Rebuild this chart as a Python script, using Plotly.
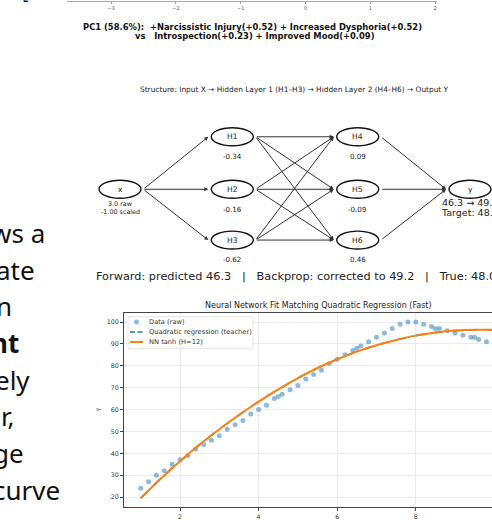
import plotly.graph_objects as go

W, H = 492, 520

# ---------------- data ----------------
x_data = [1.0, 1.2, 1.4, 1.6, 1.8, 2.0, 2.2, 2.4, 2.6, 2.8, 3.0, 3.2, 3.4, 3.6, 3.8,
          4.0, 4.2, 4.4, 4.5, 4.6, 4.8, 5.0, 5.2, 5.4, 5.6, 5.8, 6.0, 6.2, 6.4, 6.5,
          6.6, 6.8, 7.0, 7.2, 7.4, 7.6, 7.8, 8.0, 8.2, 8.4, 8.5, 8.6, 8.8, 9.0, 9.2,
          9.4, 9.5, 9.6, 9.8]
y_data = [24, 27, 30, 32, 35, 37, 39, 42, 44, 46, 48, 51, 53, 55, 58,
          60, 62, 65, 66, 67, 69, 71, 74, 76, 78, 81, 83, 85, 87, 88,
          89, 91, 93, 95, 97, 99, 100, 100, 99, 98, 97, 97, 96, 95, 94,
          93, 93, 92, 91]

curve_x = [1.0, 1.5, 2.0, 2.5, 3.0, 3.5, 4.0, 4.5, 5.0, 5.5, 6.0, 6.5, 7.0,
           7.5, 8.0, 8.5, 9.0, 9.5, 10.0]
teacher_y = [19.5, 28.3, 36.4, 44.0, 51.0, 57.5, 63.6, 69.2, 74.4, 79.0, 83.0,
             86.5, 89.4, 91.8, 93.8, 95.2, 96.1, 96.5, 96.4]
nn_y = [19.5, 28.3, 36.4, 44.0, 51.0, 57.5, 63.6, 69.2, 74.4, 79.0, 83.0,
        86.5, 89.4, 91.8, 93.8, 95.2, 96.1, 96.5, 96.4]

x_ticks = [2, 4, 6, 8]
y_ticks = [20, 30, 40, 50, 60, 70, 80, 90, 100]
pc_ticks = [-3, -2, -1, 0, 1, 2]

hidden_names = ["H1", "H2", "H3", "H4", "H5", "H6"]
hidden_values = [-0.34, -0.16, -0.62, 0.09, -0.09, 0.46]
x_raw = 3.0
x_scaled = -1.00
y_pred = 46.3
y_corrected = 49.2
y_true = 48.0

slide_fragments = ["ws a", "ate", "n", "<b>nt</b>", "ely", "r,", "ge", "curve"]

pc1_line1 = "PC1 (58.6%):\u00a0\u00a0+Narcissistic Injury(+0.52) + Increased Dysphoria(+0.52)"
pc1_line2 = "vs\u00a0\u00a0\u00a0Introspection(+0.23) + Improved Mood(+0.09)"
structure_text = "Structure: Input X \u2192 Hidden Layer 1 (H1\u2013H3) \u2192 Hidden Layer 2 (H4\u2013H6) \u2192 Output Y"
chart_title = "Neural Network Fit Matching Quadratic Regression (Fast)"
legend_labels = ["Data (raw)", "Quadratic regression (teacher)", "NN tanh (H=12)"]

# ---------------- helpers (layout only) ----------------
def px(x):
    return x / W


def py(y):
    return 1 - y / H


FONT = "DejaVu Sans"
BLUE = "#1f77b4"
ORANGE = "#ff7f0e"

fig = go.Figure()

# ---------------- bottom chart ----------------
fig.add_trace(go.Scatter(x=x_data, y=y_data, mode="markers",
                         marker=dict(size=5, color=BLUE, opacity=0.5, line=dict(width=0)),
                         name=legend_labels[0], showlegend=False))
fig.add_trace(go.Scatter(x=curve_x, y=teacher_y, mode="lines", line_shape="spline",
                         line=dict(color=BLUE, width=1.6, dash="dash"),
                         name=legend_labels[1], showlegend=False))
fig.add_trace(go.Scatter(x=curve_x, y=nn_y, mode="lines", line_shape="spline",
                         line=dict(color=ORANGE, width=2),
                         name=legend_labels[2], showlegend=False))

# previous-figure remnant axis at very top
fig.add_trace(go.Scatter(x=[None], y=[None], xaxis="x2", yaxis="y2", showlegend=False))

x0_px, xunit = 101.4, 39.3
y100_px, yunit = 323.3, 2.196
ax_left, ax_right, ax_top, ax_bot = 124, 492, 314, 509

fig.update_layout(
    width=W, height=H,
    margin=dict(l=0, r=0, t=0, b=0),
    paper_bgcolor="white", plot_bgcolor="white",
    showlegend=False,
    font=dict(family=FONT, color="#333"),
    xaxis=dict(domain=[px(ax_left), 1],
               range=[(ax_left - x0_px) / xunit, (ax_right - x0_px) / xunit],
               tickvals=x_ticks, ticks="outside", ticklen=3, tickcolor="#444",
               tickfont=dict(size=6.3, color="#333"),
               showgrid=True, gridcolor="#ebebeb", gridwidth=0.8, zeroline=False,
               showline=True, linecolor="#444", linewidth=1, mirror=True),
    yaxis=dict(domain=[py(ax_bot), py(ax_top)],
               range=[100 - (ax_bot - y100_px) / yunit, 100 + (y100_px - ax_top) / yunit],
               tickvals=y_ticks, ticks="outside", ticklen=3, tickcolor="#444",
               tickfont=dict(size=6.3, color="#333"),
               showgrid=True, gridcolor="#ebebeb", gridwidth=0.8, zeroline=False,
               showline=True, linecolor="#444", linewidth=1, mirror=False),
    xaxis2=dict(domain=[px(67), px(437)],
                range=[(67 - 305.5) / 64.8, (437 - 305.5) / 64.8],
                anchor="y2", tickvals=pc_ticks, ticks="outside", ticklen=2,
                tickcolor="#999", tickfont=dict(size=5, color="#555"),
                showgrid=False, zeroline=False, showline=True, linecolor="#aaa",
                linewidth=1),
    yaxis2=dict(domain=[py(1), 1], visible=False, range=[0, 1]),
)

annotations = []
shapes = []

# bottom chart title and y label
annotations.append(dict(x=px(318), y=py(307), xref="paper", yref="paper", text=chart_title,
                        showarrow=False, xanchor="center", yanchor="middle",
                        font=dict(size=8, color="#222", family=FONT)))
annotations.append(dict(x=px(98), y=py(412), xref="paper", yref="paper", text="Y",
                        showarrow=False, textangle=-90, xanchor="center", yanchor="middle",
                        font=dict(size=6, color="#333", family=FONT)))

# manual legend
shapes.append(dict(type="rect", xref="paper", yref="paper", layer="above",
                   x0=px(128), x1=px(253), y0=py(350), y1=py(318),
                   line=dict(color="#dddddd", width=0.8), fillcolor="rgba(255,255,255,0.85)"))
leg_rows = [323.3, 333.3, 343.3]
shapes.append(dict(type="circle", xref="paper", yref="paper", layer="above",
                   x0=px(134), x1=px(139), y0=py(leg_rows[0] + 2.5), y1=py(leg_rows[0] - 2.5),
                   line=dict(width=0), fillcolor="rgba(31,119,180,0.5)"))
shapes.append(dict(type="line", xref="paper", yref="paper", layer="above",
                   x0=px(130), x1=px(143), y0=py(leg_rows[1]), y1=py(leg_rows[1]),
                   line=dict(color=BLUE, width=1.6, dash="5px,2.5px")))
shapes.append(dict(type="line", xref="paper", yref="paper", layer="above",
                   x0=px(130), x1=px(143), y0=py(leg_rows[2]), y1=py(leg_rows[2]),
                   line=dict(color=ORANGE, width=2)))
for lab, ry in zip(legend_labels, leg_rows):
    annotations.append(dict(x=px(147), y=py(ry), xref="paper", yref="paper", text=lab,
                            showarrow=False, xanchor="left", yanchor="middle",
                            font=dict(size=6.7, color="#333", family=FONT)))

# ---------------- network diagram ----------------
LAYER_X = [120, 232.3, 357.7, 470]
ROW_Y = [137.3, 190, 241]
HW, HH = 21, 9

nodes = {"x": (LAYER_X[0], ROW_Y[1]), "y": (LAYER_X[3], ROW_Y[1])}
for i, nm in enumerate(hidden_names):
    nodes[nm] = (LAYER_X[1 + i // 3], ROW_Y[i % 3])

edges = []
for nm in hidden_names[:3]:
    edges.append(("x", nm))
for a in hidden_names[:3]:
    for b in hidden_names[3:]:
        edges.append((a, b))
for nm in hidden_names[3:]:
    edges.append((nm, "y"))

for a, b in edges:
    tx, ty = nodes[a][0] + HW + 2, nodes[a][1]
    hx, hy = nodes[b][0] - HW - 3, nodes[b][1]
    annotations.append(dict(x=px(hx), y=py(hy), xref="paper", yref="paper",
                            ax=tx - hx, ay=ty - hy, axref="pixel", ayref="pixel",
                            text="", showarrow=True, arrowhead=2, arrowsize=0.8,
                            arrowwidth=1, arrowcolor="#333", standoff=0, startstandoff=0))

for nm, (cx, cy) in nodes.items():
    shapes.append(dict(type="circle", xref="paper", yref="paper", layer="above",
                       x0=px(cx - HW), x1=px(cx + HW), y0=py(cy + HH), y1=py(cy - HH),
                       line=dict(color="#111", width=1.4), fillcolor="white"))
    annotations.append(dict(x=px(cx), y=py(cy), xref="paper", yref="paper", text=nm,
                            showarrow=False, xanchor="center", yanchor="middle",
                            font=dict(size=7.6, color="#222", family=FONT)))

for nm, v in zip(hidden_names, hidden_values):
    cx, cy = nodes[nm]
    annotations.append(dict(x=px(cx), y=py(cy + 20), xref="paper", yref="paper",
                            text=f"{v:.2f}", showarrow=False, xanchor="center",
                            yanchor="middle", font=dict(size=7.1, color="#222", family=FONT)))

cx, cy = nodes["x"]
annotations.append(dict(x=px(cx), y=py(205), xref="paper", yref="paper",
                        text=f"{x_raw:.1f} raw", showarrow=False, xanchor="center",
                        yanchor="middle", font=dict(size=6.4, color="#222", family=FONT)))
annotations.append(dict(x=px(cx), y=py(213.3), xref="paper", yref="paper",
                        text=f"{x_scaled:.2f} scaled", showarrow=False, xanchor="center",
                        yanchor="middle", font=dict(size=6.4, color="#222", family=FONT)))
cx, cy = nodes["y"]
annotations.append(dict(x=px(cx), y=py(203.5), xref="paper", yref="paper",
                        text=f"{y_pred:.1f} \u2192 {y_corrected:.1f}", showarrow=False,
                        xanchor="center", yanchor="middle",
                        font=dict(size=9.5, color="#222", family=FONT)))
annotations.append(dict(x=px(cx), y=py(213.5), xref="paper", yref="paper",
                        text=f"Target: {y_true:.1f}", showarrow=False,
                        xanchor="center", yanchor="middle",
                        font=dict(size=9.5, color="#222", family=FONT)))

annotations.append(dict(x=px(294), y=py(90), xref="paper", yref="paper", text=structure_text,
                        showarrow=False, xanchor="center", yanchor="middle",
                        font=dict(size=7.4, color="#222", family=FONT)))

sep = "\u00a0\u00a0\u00a0|\u00a0\u00a0\u00a0"
forward_text = (f"Forward: predicted {y_pred:.1f}{sep}Backprop: corrected to "
                f"{y_corrected:.1f}{sep}True: {y_true:.1f}")
annotations.append(dict(x=px(94), y=py(278), xref="paper", yref="paper", text=forward_text,
                        showarrow=False, xanchor="left", yanchor="middle",
                        font=dict(size=11.3, color="#222", family=FONT)))

# ---------------- PC1 text ----------------
annotations.append(dict(x=px(252.5), y=py(26.7), xref="paper", yref="paper",
                        text=f"<b>{pc1_line1}</b>", showarrow=False, xanchor="center",
                        yanchor="middle", font=dict(size=8.4, color="#111", family=FONT)))
annotations.append(dict(x=px(255), y=py(35.9), xref="paper", yref="paper",
                        text=f"<b>{pc1_line2}</b>", showarrow=False, xanchor="center",
                        yanchor="middle", font=dict(size=8.4, color="#111", family=FONT)))
annotations.append(dict(x=px(25), y=py(5), xref="paper", yref="paper",
                        text="<b>PC2</b>", showarrow=False, textangle=-90,
                        xanchor="center", yanchor="bottom",
                        font=dict(size=6, color="#111", family=FONT)))

# ---------------- left slide text fragments ----------------
frag_right = [46.7, 36.7, 14, 21, 31.7, 16.7, 25.7, 61.7]
frag_y = [234, 271, 307, 344, 381, 418, 455, 492]
for t, rx, ry in zip(slide_fragments, frag_right, frag_y):
    annotations.append(dict(x=px(rx), y=py(ry), xref="paper", yref="paper", text=t,
                            showarrow=False, xanchor="right", yanchor="middle",
                            font=dict(size=26, color="#111", family="Noto Sans")))

fig.update_layout(annotations=annotations, shapes=shapes)
fig.write_html("out.html", config={"displayModeBar": False},
               post_script="document.body.style.margin='0';document.body.style.overflow='hidden';")
